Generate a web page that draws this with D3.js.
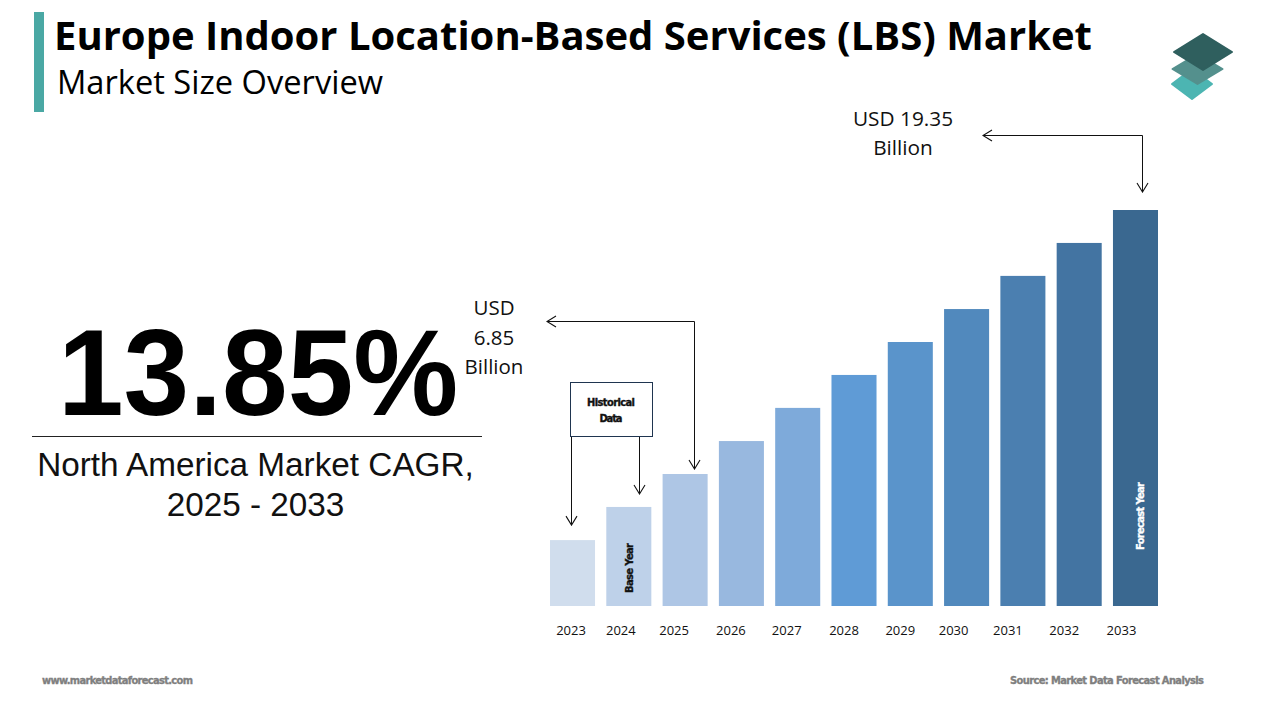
<!DOCTYPE html>
<html>
<head>
<meta charset="utf-8">
<title>Europe Indoor LBS Market</title>
<script src="https://cdn.jsdelivr.net/npm/d3@7"></script>
<style>
    html, body { margin: 0; padding: 0; background: #fff; }
    text { font-family: "Liberation Sans", sans-serif; }
    .title { font-family: "Open Sans", sans-serif; font-weight: 700; }
    .tag { font-family: "Liberation Sans Narrow", "DejaVu Sans Condensed", sans-serif; font-weight: 700; stroke-width: 0.35px; }
    .lead { font-family: "Open Sans", sans-serif; }
    .axis text { font-family: "Open Sans", sans-serif; font-size: 13px; fill: #111; }
</style>
</head>
<body>
<script>
    var years = ['2023', '2024', '2025', '2026', '2027', '2028', '2029', '2030', '2031', '2032', '2033'];
    var marketSize = [3.72, 5.29, 6.85, 8.41, 9.98, 11.54, 13.10, 14.66, 16.23, 17.79, 19.35];
    var barColors = ['#d0dded', '#bed1e9', '#aec6e5', '#98b8df', '#7eaada', '#5f9bd6', '#5a94cb', '#5189bd', '#4b7fb0', '#4374a2', '#3a6890'];

    var width = 1280, height = 720;

    var svg = d3.select('body').append('svg')
        .attr('width', width)
        .attr('height', height)
        .style('display', 'block');

    svg.append('defs').append('marker')
        .attr('id', 'arrow')
        .attr('viewBox', '-10 -7 11 14')
        .attr('markerWidth', 11)
        .attr('markerHeight', 14)
        .attr('refX', 0)
        .attr('refY', 0)
        .attr('markerUnits', 'userSpaceOnUse')
        .attr('orient', 'auto')
        .append('path')
        .attr('d', 'M-9,-5.5L0,0L-9,5.5')
        .attr('fill', 'none')
        .attr('stroke', '#111')
        .attr('stroke-width', 1.1);

    // header
    svg.append('rect').attr('x', 34).attr('y', 12).attr('width', 10).attr('height', 100).attr('fill', '#4aa8a4');
    svg.append('text').attr('class', 'title').attr('x', 54).attr('y', 49.5)
        .attr('font-size', 40).attr('textLength', 1038).attr('lengthAdjust', 'spacingAndGlyphs')
        .text('Europe Indoor Location-Based Services (LBS) Market');
    svg.append('text').attr('class', 'lead').attr('x', 57).attr('y', 94)
        .attr('font-size', 32).attr('textLength', 326).attr('lengthAdjust', 'spacingAndGlyphs')
        .text('Market Size Overview');

    // logo, three stacked diamonds, back to front
    var layers = [
        { cx: 1192, cy: 84, rx: 20, ry: 15, color: '#4cb5b2' },
        { cx: 1197.5, cy: 69, rx: 25, ry: 15, color: '#54908d' },
        { cx: 1203, cy: 52, rx: 29, ry: 18, color: '#2f5f5e' }
    ];
    layers.forEach(function(d) {
        svg.append('path')
            .attr('d', 'M' + d.cx + ',' + (d.cy - d.ry) + 'L' + (d.cx + d.rx) + ',' + d.cy + 'L' + d.cx + ',' + (d.cy + d.ry) + 'L' + (d.cx - d.rx) + ',' + d.cy + 'Z')
            .attr('fill', d.color)
            .attr('stroke', d.color)
            .attr('stroke-width', 2)
            .attr('stroke-linejoin', 'round');
    });

    // left call-out, stretched a bit in height like the original
    svg.append('text').attr('transform', 'translate(58,415) scale(1,1.04)')
        .attr('font-size', 118).attr('font-weight', 700).attr('fill', '#000')
        .text('13.85%');
    svg.append('line').attr('x1', 32).attr('x2', 482).attr('y1', 436.5).attr('y2', 436.5).attr('stroke', '#222');
    svg.append('text').attr('x', 255.5).attr('y', 476).attr('text-anchor', 'middle')
        .attr('font-size', 33.3).attr('fill', '#111').text('North America Market CAGR,');
    svg.append('text').attr('x', 255.5).attr('y', 516).attr('text-anchor', 'middle')
        .attr('font-size', 33.3).attr('fill', '#111').text('2025 - 2033');

    // chart
    var x = d3.scaleBand().domain(years).range([550, 1158]).paddingInner(0.2);
    var y = d3.scaleLinear().domain([0.6, 19.35]).range([606, 210]);

    svg.selectAll('rect.bar')
        .data(years)
        .enter()
        .append('rect')
        .attr('class', 'bar')
        .attr('x', function(d) { return x(d); })
        .attr('y', function(d, i) { return y(marketSize[i]); })
        .attr('width', x.bandwidth())
        .attr('height', function(d, i) { return y.range()[0] - y(marketSize[i]); })
        .attr('fill', function(d, i) { return barColors[i]; });

    // the year labels sit a little left of their bars in the original
    var tickNudge = [-1.5, -8, -11, -10.5, -11, -10, -10, -13, -15, -15, -14];
    var axis = svg.append('g')
        .attr('class', 'axis')
        .attr('transform', 'translate(0,606)')
        .call(d3.axisBottom(x).tickSize(0).tickPadding(20));
    axis.select('.domain').remove();
    axis.selectAll('text').attr('dx', function(d, i) { return tickNudge[i]; });

    function cx(year) { return x(year) + x.bandwidth() / 2; }

    function vertical(px, y1, y2) {
        svg.append('line').attr('x1', px).attr('x2', px).attr('y1', y1).attr('y2', y2)
            .attr('stroke', '#111').attr('marker-end', 'url(#arrow)');
    }

    function tag(color) {
        return svg.append('text').attr('class', 'tag')
            .attr('font-size', 11).attr('fill', color).attr('stroke', color);
    }

    // bar captions
    tag('#111').attr('transform', 'translate(' + (cx('2024') + 4) + ',593) rotate(-90)')
        .attr('textLength', 50).text('Base Year');
    tag('#fff').attr('transform', 'translate(' + (cx('2033') + 9) + ',550) rotate(-90)')
        .attr('textLength', 68).text('Forecast Year');

    // historical box
    svg.append('rect').attr('x', 570.5).attr('y', 382.5).attr('width', 82).attr('height', 54)
        .attr('fill', '#fff').attr('stroke', '#1f3550');
    tag('#111').attr('x', 611).attr('y', 406).attr('text-anchor', 'middle')
        .attr('textLength', 48).text('Historical');
    tag('#111').attr('x', 611).attr('y', 422).attr('text-anchor', 'middle')
        .attr('textLength', 23).text('Data');
    vertical(571.5, 437, y(marketSize[0]) - 15);
    vertical(639.5, 437, y(marketSize[1]) - 13);

    // 2025 value
    vertical(694.5, 321.5, y(marketSize[2]) - 5);
    svg.append('line').attr('x1', 694.5).attr('x2', 547).attr('y1', 321.5).attr('y2', 321.5)
        .attr('stroke', '#111').attr('marker-end', 'url(#arrow)');
    ['USD', '6.85', 'Billion'].forEach(function(t, i) {
        svg.append('text').attr('class', 'lead').attr('x', 494).attr('y', 315 + i * 29.5).attr('text-anchor', 'middle')
            .attr('font-size', 20.5).attr('fill', '#111').text(t);
    });

    // 2033 value
    vertical(1142.5, 135.5, y(marketSize[10]) - 18);
    svg.append('line').attr('x1', 1142.5).attr('x2', 983).attr('y1', 135.5).attr('y2', 135.5)
        .attr('stroke', '#111').attr('marker-end', 'url(#arrow)');
    ['USD 19.35', 'Billion'].forEach(function(t, i) {
        svg.append('text').attr('class', 'lead').attr('x', 903).attr('y', 125.5 + i * 29).attr('text-anchor', 'middle')
            .attr('font-size', 20.8).attr('fill', '#111').text(t);
    });

    // footer
    tag('#7f7f7f').attr('x', 42).attr('y', 684)
        .attr('textLength', 151).text('www.marketdataforecast.com');
    tag('#7f7f7f').attr('x', 1010).attr('y', 684)
        .attr('textLength', 194).text('Source: Market Data Forecast Analysis');
</script>
</body>
</html>
